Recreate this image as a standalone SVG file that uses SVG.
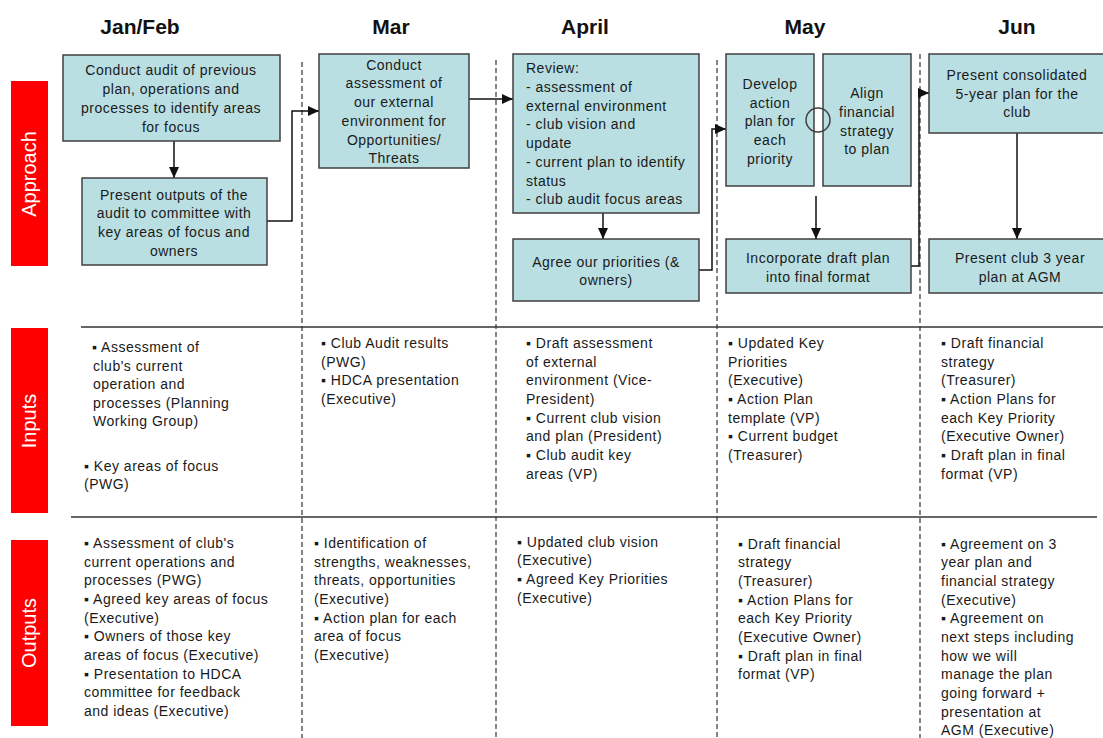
<svg xmlns="http://www.w3.org/2000/svg" width="1103" height="738" viewBox="0 0 1103 738">
<defs>
<style>
.hdr{font-family:"Liberation Sans",Arial,sans-serif;font-weight:bold;font-size:21px;fill:#111;text-anchor:middle}
.side{font-family:"Liberation Sans",Arial,sans-serif;font-size:20px;fill:#fff;text-anchor:middle}
.bar{fill:#ff0000}
.box{fill:#b9dfe3;stroke:#404040;stroke-width:1.5}
.bt{font-family:"Liberation Sans",Arial,sans-serif;font-size:14px;letter-spacing:0.5px;fill:#1a1a1a;text-anchor:middle}
.bl{font-family:"Liberation Sans",Arial,sans-serif;font-size:14px;letter-spacing:0.5px;fill:#1a1a1a}
.tx{font-family:"Liberation Sans",Arial,sans-serif;font-size:14px;letter-spacing:0.5px;fill:#1a1a1a}
.dash{stroke:#333;stroke-width:1.2;stroke-dasharray:5,3;fill:none}
.rule{stroke:#333;stroke-width:1.5}
.conn{stroke:#111;stroke-width:1.5;fill:none}
</style>
<marker id="ah" markerUnits="userSpaceOnUse" markerWidth="12" markerHeight="10" refX="11" refY="5" orient="auto">
<path d="M0,0 L11,5 L0,10 Z" fill="#111"/>
</marker>
</defs>
<rect width="1103" height="738" fill="#fff"/>

<g id="headers">
<text class="hdr" x="140" y="34">Jan/Feb</text>
<text class="hdr" x="391" y="34">Mar</text>
<text class="hdr" x="585" y="34">April</text>
<text class="hdr" x="805" y="34">May</text>
<text class="hdr" x="1017" y="34">Jun</text>
</g>

<g id="side-labels">
<rect class="bar" x="11" y="81" width="37" height="185"/>
<text class="side" transform="translate(36,174) rotate(-90)">Approach</text>
<rect class="bar" x="11" y="328" width="37" height="185"/>
<text class="side" transform="translate(36,421) rotate(-90)">Inputs</text>
<rect class="bar" x="11" y="540" width="37" height="186"/>
<text class="side" transform="translate(36,633) rotate(-90)">Outputs</text>
</g>

<g id="grid">
<line class="dash" x1="302" y1="62" x2="302" y2="738"/>
<line class="dash" x1="496" y1="60" x2="496" y2="738"/>
<line class="dash" x1="717" y1="60" x2="717" y2="738"/>
<line class="dash" x1="920" y1="54" x2="920" y2="738"/>
<line class="rule" x1="81" y1="327" x2="1103" y2="327"/>
<line class="rule" x1="71" y1="517" x2="1097" y2="517"/>
</g>

<g id="connectors">
<line class="conn" x1="174" y1="141" x2="174" y2="178" marker-end="url(#ah)"/>
<polyline class="conn" points="267,221 292,221 292,111 319,111" marker-end="url(#ah)"/>
<line class="conn" x1="469" y1="99" x2="513" y2="99" marker-end="url(#ah)"/>
<line class="conn" x1="603" y1="213" x2="603" y2="239" marker-end="url(#ah)"/>
<polyline class="conn" points="699,270 712,270 712,129 726,129" marker-end="url(#ah)"/>
<line class="conn" x1="816" y1="196" x2="816" y2="239" marker-end="url(#ah)"/>
<polyline class="conn" points="911,266 919,266 919,93 929,93" marker-end="url(#ah)"/>
<line class="conn" x1="1017" y1="133" x2="1017" y2="239" marker-end="url(#ah)"/>
</g>

<g id="n1">
<rect class="box" x="63" y="55" width="217" height="86"/>
<text class="bt" x="171" y="75">Conduct audit of previous</text>
<text class="bt" x="171" y="94">plan, operations and</text>
<text class="bt" x="171" y="113">processes to identify areas</text>
<text class="bt" x="171" y="132">for focus</text>
</g>
<g id="n2">
<rect class="box" x="82" y="178" width="185" height="87"/>
<text class="bt" x="174" y="200">Present outputs of the</text>
<text class="bt" x="174" y="218">audit to committee with</text>
<text class="bt" x="174" y="237">key areas of focus and</text>
<text class="bt" x="174" y="256">owners</text>
</g>
<g id="n3">
<rect class="box" x="319" y="54" width="150" height="114"/>
<text class="bt" x="394" y="70">Conduct</text>
<text class="bt" x="394" y="88">assessment of</text>
<text class="bt" x="394" y="107">our external</text>
<text class="bt" x="394" y="126">environment for</text>
<text class="bt" x="394" y="145">Opportunities/</text>
<text class="bt" x="394" y="163">Threats</text>
</g>
<g id="n4">
<rect class="box" x="513" y="54" width="186" height="159"/>
<text class="bl" x="526" y="73">Review:</text>
<text class="bl" x="526" y="92">- assessment of</text>
<text class="bl" x="526" y="111">external environment</text>
<text class="bl" x="526" y="129">- club vision and</text>
<text class="bl" x="526" y="148">update</text>
<text class="bl" x="526" y="167">- current plan to identify</text>
<text class="bl" x="526" y="186">status</text>
<text class="bl" x="526" y="204">- club audit focus areas</text>
</g>
<g id="n5">
<rect class="box" x="513" y="239" width="186" height="62"/>
<text class="bt" x="606" y="267">Agree our priorities (&amp;</text>
<text class="bt" x="606" y="285">owners)</text>
</g>
<g id="n6">
<rect class="box" x="726" y="54" width="88" height="132"/>
<text class="bt" x="770" y="89">Develop</text>
<text class="bt" x="770" y="108">action</text>
<text class="bt" x="770" y="126">plan for</text>
<text class="bt" x="770" y="145">each</text>
<text class="bt" x="770" y="164">priority</text>
</g>
<g id="n7">
<rect class="box" x="823" y="54" width="88" height="132"/>
<text class="bt" x="867" y="98">Align</text>
<text class="bt" x="867" y="117">financial</text>
<text class="bt" x="867" y="136">strategy</text>
<text class="bt" x="867" y="154">to plan</text>
</g>
<g id="link-circle">
<circle cx="818" cy="120" r="12" fill="none" stroke="#404040" stroke-width="1.5"/>
</g>
<g id="n8">
<rect class="box" x="726" y="239" width="185" height="54"/>
<text class="bt" x="818" y="263">Incorporate draft plan</text>
<text class="bt" x="818" y="282">into final format</text>
</g>
<g id="n9">
<rect class="box" x="929" y="54" width="180" height="79"/>
<text class="bt" x="1017" y="80">Present consolidated</text>
<text class="bt" x="1017" y="99">5-year plan for the</text>
<text class="bt" x="1017" y="117">club</text>
</g>
<g id="n10">
<rect class="box" x="929" y="239" width="180" height="54"/>
<text class="bt" x="1020" y="263">Present club 3 year</text>
<text class="bt" x="1020" y="282">plan at AGM</text>
</g>

<g id="inputs">
<text class="tx" x="92" y="352">▪ Assessment of</text>
<text class="tx" x="93" y="371">club's current</text>
<text class="tx" x="93" y="389">operation and</text>
<text class="tx" x="93" y="408">processes (Planning</text>
<text class="tx" x="93" y="426">Working Group)</text>
<text class="tx" x="84" y="471">▪ Key areas of focus</text>
<text class="tx" x="84" y="489">(PWG)</text>

<text class="tx" x="321" y="348">▪ Club Audit results</text>
<text class="tx" x="321" y="367">(PWG)</text>
<text class="tx" x="321" y="385">▪ HDCA presentation</text>
<text class="tx" x="321" y="404">(Executive)</text>

<text class="tx" x="526" y="348">▪ Draft assessment</text>
<text class="tx" x="526" y="367">of external</text>
<text class="tx" x="526" y="385">environment (Vice-</text>
<text class="tx" x="526" y="404">President)</text>
<text class="tx" x="526" y="423">▪ Current club vision</text>
<text class="tx" x="526" y="441">and plan (President)</text>
<text class="tx" x="526" y="460">▪ Club audit key</text>
<text class="tx" x="526" y="479">areas (VP)</text>

<text class="tx" x="728" y="348">▪ Updated Key</text>
<text class="tx" x="728" y="367">Priorities</text>
<text class="tx" x="728" y="385">(Executive)</text>
<text class="tx" x="728" y="404">▪ Action Plan</text>
<text class="tx" x="728" y="423">template (VP)</text>
<text class="tx" x="728" y="441">▪ Current budget</text>
<text class="tx" x="728" y="460">(Treasurer)</text>

<text class="tx" x="941" y="348">▪ Draft financial</text>
<text class="tx" x="941" y="367">strategy</text>
<text class="tx" x="941" y="385">(Treasurer)</text>
<text class="tx" x="941" y="404">▪ Action Plans for</text>
<text class="tx" x="941" y="423">each Key Priority</text>
<text class="tx" x="941" y="441">(Executive Owner)</text>
<text class="tx" x="941" y="460">▪ Draft plan in final</text>
<text class="tx" x="941" y="479">format (VP)</text>
</g>

<g id="outputs">
<text class="tx" x="84" y="548">▪ Assessment of club's</text>
<text class="tx" x="84" y="567">current operations and</text>
<text class="tx" x="84" y="585">processes (PWG)</text>
<text class="tx" x="84" y="604">▪ Agreed key areas of focus</text>
<text class="tx" x="84" y="623">(Executive)</text>
<text class="tx" x="84" y="641">▪ Owners of those key</text>
<text class="tx" x="84" y="660">areas of focus (Executive)</text>
<text class="tx" x="84" y="679">▪ Presentation to HDCA</text>
<text class="tx" x="84" y="697">committee for feedback</text>
<text class="tx" x="84" y="716">and ideas (Executive)</text>

<text class="tx" x="314" y="548">▪ Identification of</text>
<text class="tx" x="314" y="567">strengths, weaknesses,</text>
<text class="tx" x="314" y="585">threats, opportunities</text>
<text class="tx" x="314" y="604">(Executive)</text>
<text class="tx" x="314" y="623">▪ Action plan for each</text>
<text class="tx" x="314" y="641">area of focus</text>
<text class="tx" x="314" y="660">(Executive)</text>

<text class="tx" x="517" y="547">▪ Updated club vision</text>
<text class="tx" x="517" y="565">(Executive)</text>
<text class="tx" x="517" y="584">▪ Agreed Key Priorities</text>
<text class="tx" x="517" y="603">(Executive)</text>

<text class="tx" x="738" y="549">▪ Draft financial</text>
<text class="tx" x="738" y="567">strategy</text>
<text class="tx" x="738" y="586">(Treasurer)</text>
<text class="tx" x="738" y="605">▪ Action Plans for</text>
<text class="tx" x="738" y="623">each Key Priority</text>
<text class="tx" x="738" y="642">(Executive Owner)</text>
<text class="tx" x="738" y="661">▪ Draft plan in final</text>
<text class="tx" x="738" y="679">format (VP)</text>

<text class="tx" x="941" y="549">▪ Agreement on 3</text>
<text class="tx" x="941" y="567">year plan and</text>
<text class="tx" x="941" y="586">financial strategy</text>
<text class="tx" x="941" y="605">(Executive)</text>
<text class="tx" x="941" y="623">▪ Agreement on</text>
<text class="tx" x="941" y="642">next steps including</text>
<text class="tx" x="941" y="661">how we will</text>
<text class="tx" x="941" y="679">manage the plan</text>
<text class="tx" x="941" y="698">going forward +</text>
<text class="tx" x="941" y="717">presentation at</text>
<text class="tx" x="941" y="735">AGM (Executive)</text>
</g>
</svg>
